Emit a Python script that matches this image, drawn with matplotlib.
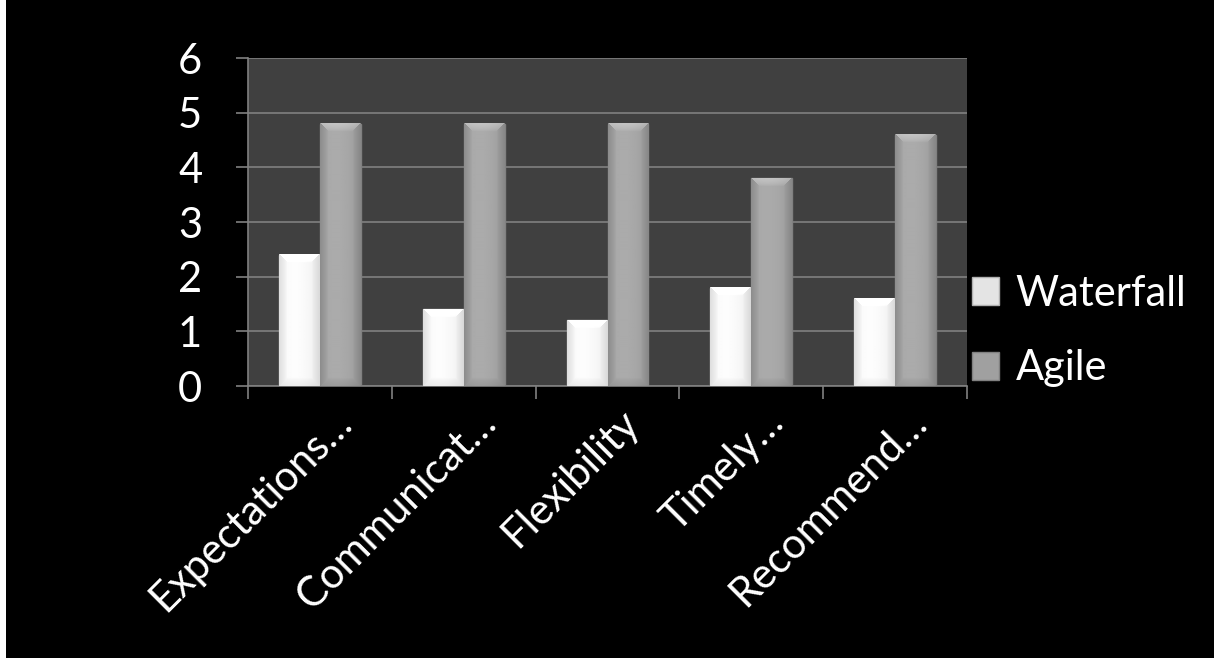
import numpy as np
import matplotlib
matplotlib.use('Agg')
import matplotlib.pyplot as plt
from matplotlib.transforms import ScaledTranslation
from matplotlib.patches import Rectangle

# chart values
categories = ['Expectations…', 'Communicat…', 'Flexibility', 'Timely…', 'Recommend…']
waterfall = [2.4, 1.4, 1.2, 1.8, 1.6]
agile = [4.8, 4.8, 4.8, 3.8, 4.6]
series_names = ['Waterfall', 'Agile']
y_ticks = [0, 1, 2, 3, 4, 5, 6]

plt.rcParams['font.family'] = ['Lato', 'DejaVu Sans']

fig = plt.figure(figsize=(12.14, 6.58), dpi=100, facecolor='black')
fig.patches.append(Rectangle((0, 0), 6 / 1214, 1, transform=fig.transFigure,
                             facecolor='white', edgecolor='none'))
ax = fig.add_axes([248 / 1214, 1 - 386 / 658, 719 / 1214, 328 / 658])
ax.set_facecolor('#404040')

x = np.arange(len(categories))
bw = 0.285
ax.set_xlim(-0.5, len(categories) - 0.5)
ax.set_ylim(0, 6)

b1 = ax.bar(x - bw / 2, waterfall, bw, color='#e4e4e4', edgecolor='#b0b0b0',
            linewidth=1, zorder=2, label=series_names[0])
b2 = ax.bar(x + bw / 2, agile, bw, color='#a0a0a0', edgecolor='#808080',
            linewidth=1, zorder=2, label=series_names[1])


def bevel(base, w, h, b=8):
    # soft bevelled shading for one bar, in pixel units
    w = max(int(round(w)), 2)
    h = max(int(round(h)), 2)
    xs = np.arange(w) + 0.5
    ys = np.arange(h) + 0.5
    X, Y = np.meshgrid(xs, ys)
    img = base + 0.05 * (1 - (2 * (X / w) - 0.8) ** 2)
    dl, dr, dt, db = X, w - X, Y, h - Y
    d = np.stack([dl, dr, dt, db])
    face = d.argmin(axis=0)
    dist = d.min(axis=0)
    k = np.clip(1 - dist / b, 0, 1) ** 0.6
    adj = np.array([-0.09, -0.07, 0.10, -0.06])
    img = img + adj[face] * k
    return np.clip(img, 0, 1)


def shade(bars, base):
    for r in bars:
        x0, y0 = r.get_x(), r.get_y()
        x1, y1 = x0 + r.get_width(), y0 + r.get_height()
        p0 = ax.transData.transform((x0, y0))
        p1 = ax.transData.transform((x1, y1))
        img = bevel(base, p1[0] - p0[0], p1[1] - p0[1])
        ax.imshow(img, cmap='gray', vmin=0, vmax=1, extent=(x0, x1, y0, y1),
                  aspect='auto', interpolation='bilinear', zorder=3)


shade(b1, 0.94)
shade(b2, 0.62)
ax.set_xlim(-0.5, len(categories) - 0.5)
ax.set_ylim(0, 6)

ax.set_yticks(y_ticks)
ax.yaxis.grid(True, color='#808080', linewidth=1.2)
ax.set_axisbelow(True)
ax.tick_params(axis='y', colors='#808080', labelcolor='white', labelsize=30,
               length=9, width=1.2, pad=24)

ax.set_xticks(x)
ax.set_xticklabels(categories, rotation=45, ha='right', va='baseline',
                   rotation_mode='anchor')
ax.set_xticks(np.arange(len(categories) + 1) - 0.5, minor=True)
ax.tick_params(axis='x', which='major', length=0, labelcolor='white',
               labelsize=30, pad=28)
ax.tick_params(axis='x', which='minor', length=9, width=1.2, colors='#808080')
off = ScaledTranslation(0.34, 0, fig.dpi_scale_trans)
for lab in ax.get_xticklabels():
    lab.set_transform(lab.get_transform() + off)

for s in ['top', 'right']:
    ax.spines[s].set_visible(False)
for s in ['left', 'bottom']:
    ax.spines[s].set_color('#808080')
    ax.spines[s].set_linewidth(1.2)

leg = ax.legend(handles=[b1, b2], loc='center left',
                bbox_to_anchor=(1 + 5 / 719, 0.168),
                frameon=False, fontsize=30, labelcolor='white',
                handlelength=0.65, handleheight=0.65, handletextpad=0.4,
                labelspacing=0.88, borderaxespad=0, borderpad=0)

fig.savefig('out.png', dpi=100, facecolor='black')
